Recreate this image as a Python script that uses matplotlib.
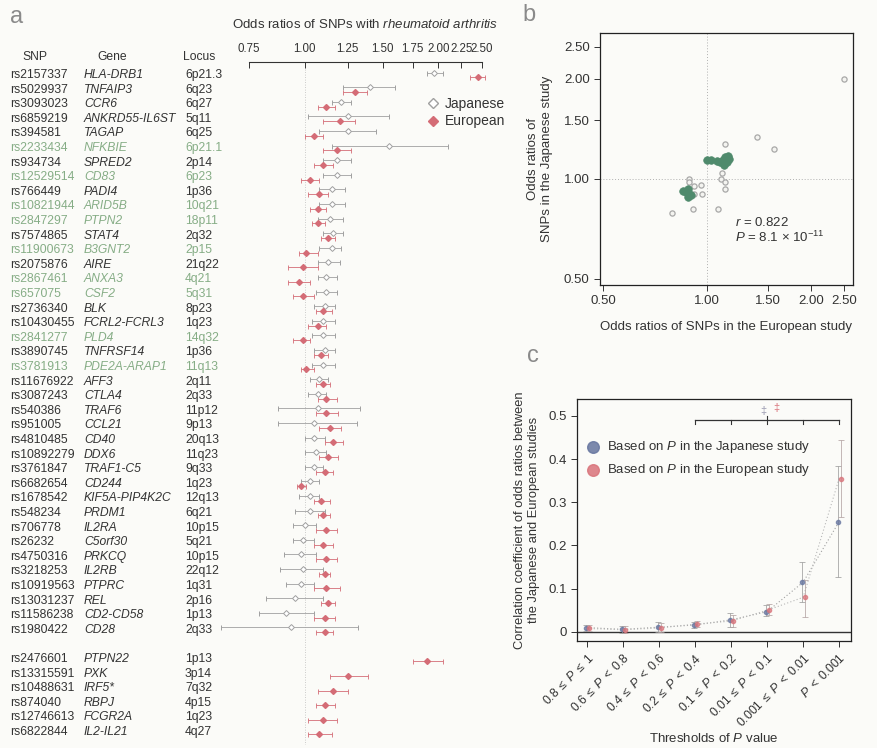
import matplotlib
matplotlib.use("Agg")
import matplotlib.pyplot as plt
import matplotlib.transforms as mtransforms
import numpy as np

plt.rcParams['font.family'] = ['Liberation Sans', 'DejaVu Sans']
plt.rcParams['mathtext.fontset'] = 'custom'
plt.rcParams['mathtext.rm'] = 'Liberation Sans'
plt.rcParams['mathtext.it'] = 'Liberation Sans:italic'
plt.rcParams['mathtext.bf'] = 'Liberation Sans:bold'

# ---------------- panel a: forest plot data ----------------
snps = ["rs2157337", "rs5029937", "rs3093023", "rs6859219", "rs394581", "rs2233434",
        "rs934734", "rs12529514", "rs766449", "rs10821944", "rs2847297", "rs7574865",
        "rs11900673", "rs2075876", "rs2867461", "rs657075", "rs2736340", "rs10430455",
        "rs2841277", "rs3890745", "rs3781913", "rs11676922", "rs3087243", "rs540386",
        "rs951005", "rs4810485", "rs10892279", "rs3761847", "rs6682654", "rs1678542",
        "rs548234", "rs706778", "rs26232", "rs4750316", "rs3218253", "rs10919563",
        "rs13031237", "rs11586238", "rs1980422",
        "rs2476601", "rs13315591", "rs10488631", "rs874040", "rs12746613", "rs6822844"]
genes = ["HLA-DRB1", "TNFAIP3", "CCR6", "ANKRD55-IL6ST", "TAGAP", "NFKBIE", "SPRED2",
         "CD83", "PADI4", "ARID5B", "PTPN2", "STAT4", "B3GNT2", "AIRE", "ANXA3", "CSF2",
         "BLK", "FCRL2-FCRL3", "PLD4", "TNFRSF14", "PDE2A-ARAP1", "AFF3", "CTLA4", "TRAF6",
         "CCL21", "CD40", "DDX6", "TRAF1-C5", "CD244", "KIF5A-PIP4K2C", "PRDM1", "IL2RA",
         "C5orf30", "PRKCQ", "IL2RB", "PTPRC", "REL", "CD2-CD58", "CD28",
         "PTPN22", "PXK", "IRF5*", "RBPJ", "FCGR2A", "IL2-IL21"]
loci = ["6p21.3", "6q23", "6q27", "5q11", "6q25", "6p21.1", "2p14", "6p23", "1p36", "10q21",
        "18p11", "2q32", "2p15", "21q22", "4q21", "5q31", "8p23", "1q23", "14q32", "1p36",
        "11q13", "2q11", "2q33", "11p12", "9p13", "20q13", "11q23", "9q33", "1q23", "12q13",
        "6q21", "10p15", "5q21", "10p15", "22q12", "1q31", "2p16", "1p13", "2q33",
        "1p13", "3p14", "7q32", "4p15", "1q23", "4q27"]
green_genes = ["NFKBIE", "CD83", "ARID5B", "PTPN2", "B3GNT2", "ANXA3", "CSF2", "PLD4",
               "PDE2A-ARAP1"]

# Japanese odds ratios (first 39 SNPs)
jp_or = [1.95, 1.40, 1.21, 1.25, 1.25, 1.55, 1.18, 1.18, 1.15, 1.15, 1.14, 1.16, 1.15,
         1.13, 1.12, 1.12, 1.11, 1.10, 1.10, 1.11, 1.10, 1.08, 1.07, 1.07, 1.05, 1.05,
         1.06, 1.05, 1.03, 1.03, 1.03, 1.00, 0.99, 0.98, 0.99, 0.98, 0.95, 0.91, 0.93]
jp_lo = [1.88, 1.22, 1.15, 1.02, 1.08, 1.15, 1.10, 1.10, 1.08, 1.08, 1.07, 1.10, 1.08,
         1.07, 1.07, 1.06, 1.05, 1.04, 1.04, 1.05, 1.04, 1.03, 1.02, 0.87, 0.87, 1.00,
         1.00, 1.00, 0.98, 0.97, 0.95, 0.94, 0.94, 0.90, 0.88, 0.91, 0.82, 0.79, 0.65]
jp_hi = [2.05, 1.60, 1.27, 1.55, 1.45, 2.10, 1.27, 1.27, 1.23, 1.23, 1.22, 1.22, 1.21,
         1.20, 1.18, 1.18, 1.17, 1.17, 1.17, 1.17, 1.17, 1.13, 1.12, 1.33, 1.31, 1.11,
         1.12, 1.10, 1.08, 1.08, 1.11, 1.06, 1.05, 1.06, 1.10, 1.05, 1.10, 1.05, 1.32]

# European odds ratios (all 45 SNPs)
eu_or = [2.45, 1.30, 1.12, 1.20, 1.05, 1.18, 1.10, 1.03, 1.08, 1.07, 1.07, 1.13, 1.01,
         0.99, 0.97, 0.99, 1.10, 1.07, 0.99, 1.09, 1.01, 1.10, 1.12, 1.12, 1.14, 1.16,
         1.13, 1.11, 0.98, 1.09, 1.10, 1.12, 1.10, 1.12, 1.11, 1.12, 1.13, 1.11, 1.11,
         1.88, 1.25, 1.16, 1.11, 1.10, 1.08]
eu_lo = [2.35, 1.22, 1.07, 1.10, 1.00, 1.10, 1.05, 0.98, 1.02, 1.03, 1.04, 1.09, 0.97,
         0.92, 0.92, 0.94, 1.06, 1.02, 0.94, 1.05, 0.98, 1.06, 1.07, 1.06, 1.08, 1.11,
         1.08, 1.06, 0.96, 1.05, 1.07, 1.06, 1.05, 1.06, 1.08, 1.05, 1.09, 1.05, 1.06,
         1.75, 1.14, 1.07, 1.06, 1.02, 1.02]
eu_hi = [2.55, 1.38, 1.17, 1.30, 1.10, 1.27, 1.16, 1.08, 1.13, 1.12, 1.11, 1.17, 1.07,
         1.07, 1.03, 1.05, 1.15, 1.12, 1.03, 1.13, 1.05, 1.14, 1.18, 1.19, 1.21, 1.22,
         1.19, 1.16, 1.01, 1.14, 1.14, 1.18, 1.16, 1.18, 1.14, 1.20, 1.17, 1.17, 1.16,
         2.05, 1.39, 1.25, 1.17, 1.18, 1.15]
forest_ticks = [0.75, 1.00, 1.25, 1.50, 1.75, 2.00, 2.25, 2.50]

# ---------------- panel b: scatter data ----------------
b_open_eu = [2.50, 1.40, 1.56, 1.13, 1.105, 1.10, 1.13, 1.13, 0.92, 0.92, 0.97, 0.89,
             0.89, 0.79, 0.91, 1.08, 0.96]
b_open_jp = [2.00, 1.34, 1.23, 1.27, 1.04, 1.00, 0.98, 0.93, 0.95, 0.90, 0.90, 1.00,
             0.98, 0.79, 0.81, 0.81, 0.96]
b_fill_eu = [0.85, 0.87, 0.88, 0.89, 0.90, 0.88, 1.00, 1.03, 1.07, 1.09, 1.11, 1.13,
             1.15, 1.16, 1.12, 1.14]
b_fill_jp = [0.92, 0.91, 0.93, 0.90, 0.89, 0.88, 1.14, 1.14, 1.13, 1.12, 1.14, 1.16,
             1.17, 1.15, 1.10, 1.12]
b_ticks = [0.50, 1.00, 1.50, 2.00, 2.50]

# ---------------- panel c: correlation data ----------------
c_labels = [r"$0.8\;\leq\;P\;\leq\;1$", r"$0.6\;\leq\;P\;<\;0.8$", r"$0.4\;\leq\;P\;<\;0.6$",
            r"$0.2\;\leq\;P\;<\;0.4$", r"$0.1\;\leq\;P\;<\;0.2$", r"$0.01\;\leq\;P\;<\;0.1$",
            r"$0.001\;\leq\;P\;<\;0.01$", r"$P\;<\;0.001$"]
c_jp = [0.010, 0.006, 0.011, 0.016, 0.028, 0.047, 0.115, 0.255]
c_jp_lo = [0.002, -0.002, 0.000, 0.010, 0.012, 0.037, 0.070, 0.128]
c_jp_hi = [0.017, 0.013, 0.022, 0.023, 0.043, 0.062, 0.162, 0.385]
c_eu = [0.008, 0.005, 0.009, 0.018, 0.025, 0.050, 0.080, 0.355]
c_eu_lo = [0.001, -0.002, 0.000, 0.011, 0.012, 0.040, 0.035, 0.265]
c_eu_hi = [0.016, 0.013, 0.020, 0.025, 0.040, 0.065, 0.120, 0.445]

TXT = '#333333'
GREEN_TXT = '#86ad86'
JP_COL = '#a0a0a0'
EU_COL = '#d46c76'
PT_GREEN = '#4f8a6c'
BLUE = '#66759f'
RED = '#d9737a'

W, H = 877, 748
fig = plt.figure(figsize=(W / 100, H / 100), dpi=100)
fig.patch.set_facecolor('#fbfbf8')


def fbox(x0, y0, x1, y1):
    # pixel box -> figure fraction rect
    return [x0 / W, 1 - y1 / H, (x1 - x0) / W, (y1 - y0) / H]


# ---------------- panel a ----------------
ax = fig.add_axes(fbox(215, 62, 500, 745))
ax.set_facecolor('none')
row_step = 14.6
slots = [i if i < 39 else i + 1 for i in range(len(snps))]
ax.set_xscale('log')
ax.set_xlim(0.629, 2.75)
ax.set_ylim((745 - 75) / row_step, (62 - 75) / row_step)

jy = np.array(slots[:len(jp_or)]) - 0.17
ey = np.array(slots) + 0.17
ax.axvline(1.0, ymin=0.0, ymax=0.99, color='#bbbbbb', lw=0.6, ls=(0, (1, 2)))
ax.errorbar(jp_or, jy, xerr=[np.subtract(jp_or, jp_lo), np.subtract(jp_hi, jp_or)],
            fmt='D', ms=3, mfc='white', mec=JP_COL, mew=0.7, ecolor=JP_COL,
            elinewidth=0.6, capsize=1.8, capthick=0.6, zorder=3)
ax.errorbar(eu_or, ey, xerr=[np.subtract(eu_or, eu_lo), np.subtract(eu_hi, eu_or)],
            fmt='D', ms=3, mfc=EU_COL, mec=EU_COL, ecolor=EU_COL,
            elinewidth=0.6, capsize=1.8, capthick=0.6, zorder=3)

for s in ['left', 'right', 'bottom']:
    ax.spines[s].set_visible(False)
ax.spines['top'].set_bounds(0.75, 2.5)
ax.spines['top'].set_color(TXT)
ax.spines['top'].set_linewidth(0.8)
ax.xaxis.set_ticks_position('top')
ax.xaxis.set_label_position('top')
ax.set_xticks(forest_ticks)
ax.set_xticklabels(['%.2f' % t for t in forest_ticks], fontsize=8.3, color=TXT)
ax.xaxis.set_minor_locator(matplotlib.ticker.NullLocator())
ax.tick_params(axis='x', direction='in', length=4, width=0.7, pad=5, color=TXT)
ax.set_yticks([])

trans = mtransforms.blended_transform_factory(fig.transFigure, ax.transData)
for i, s in enumerate(slots):
    col = GREEN_TXT if genes[i] in green_genes else TXT
    ax.text(10 / W, s, snps[i], transform=trans, fontsize=8.7, color=col, va='center')
    ax.text(84 / W, s, genes[i], transform=trans, fontsize=8.7, color=col, va='center',
            style='italic')
    ax.text(185 / W, s, loci[i], transform=trans, fontsize=8.7, color=col, va='center')

fig.text(35 / W, 1 - 57 / H, 'SNP', fontsize=8.7, color=TXT, ha='center', va='center')
fig.text(112 / W, 1 - 57 / H, 'Gene', fontsize=8.7, color=TXT, ha='center', va='center')
fig.text(199 / W, 1 - 57 / H, 'Locus', fontsize=8.7, color=TXT, ha='center', va='center')
fig.text(365 / W, 1 - 25 / H,
         r'Odds ratios of SNPs with $\mathit{rheumatoid\ arthritis}$',
         fontsize=9.5, color=TXT, ha='center', va='center')

# legend of panel a
ax.plot([], [], 'D', ms=5, mfc='white', mec=JP_COL, label='Japanese')
ax.plot([], [], 'D', ms=5, mfc=EU_COL, mec=EU_COL, label='European')
ax.legend(loc='upper left', bbox_to_anchor=(420 / W, 1 - 90 / H),
          bbox_transform=fig.transFigure, frameon=False, fontsize=10,
          handlelength=0.8, handletextpad=0.5, labelspacing=0.25, borderpad=0,
          labelcolor=TXT)

# ---------------- panel b ----------------
bx = fig.add_axes(fbox(600, 33, 853, 285))
bx.set_facecolor('none')
bx.set_xscale('log')
bx.set_yscale('log')
bx.set_xlim(0.49, 2.65)
bx.set_ylim(0.478, 2.75)
bx.axvline(1.0, color='#b0b0b0', lw=0.7, ls=(0, (1, 2)))
bx.axhline(1.0, color='#b0b0b0', lw=0.7, ls=(0, (1, 2)))
bx.scatter(b_open_eu, b_open_jp, s=14, facecolors='#f4f4f0', edgecolors='#a8a8a8',
           linewidths=0.9, zorder=3)
bx.scatter(b_fill_eu, b_fill_jp, s=30, color=PT_GREEN, edgecolors=PT_GREEN,
           linewidths=0.5, zorder=4)
for axis in (bx.xaxis, bx.yaxis):
    axis.set_major_locator(matplotlib.ticker.FixedLocator(b_ticks))
    axis.set_major_formatter(matplotlib.ticker.FormatStrFormatter('%.2f'))
    axis.set_minor_locator(matplotlib.ticker.NullLocator())
bx.tick_params(labelsize=9.5, colors=TXT, length=4, width=0.7)
for s in bx.spines.values():
    s.set_color('#222222')
    s.set_linewidth(0.9)
bx.set_xlabel('Odds ratios of SNPs in the European study', fontsize=9.5, color=TXT,
              labelpad=10)
bx.set_ylabel('Odds ratios of\nSNPs in the Japanese study', fontsize=9.5, color=TXT,
              labelpad=8)
bx.text(0.535, 0.235, r'$r$ = 0.822', transform=bx.transAxes, fontsize=9.5, color=TXT)
bx.text(0.535, 0.17, r'$P$ = 8.1 $\times$ 10$^{-11}$', transform=bx.transAxes,
        fontsize=9.5, color=TXT)

# ---------------- panel c ----------------
cx = fig.add_axes(fbox(577, 399, 851, 641))
cx.set_facecolor('none')
xs = np.arange(len(c_labels))
cx.set_xlim(-0.28, 7.33)
cx.set_ylim(-0.021, 0.539)
cx.axhline(0, color='#333333', lw=1.0, zorder=2)
cx.plot(xs, c_jp, color='#a0a0a0', lw=0.8, ls=(0, (1, 2)), zorder=2)
cx.plot(xs, c_eu, color='#b8b8b8', lw=0.8, ls=(0, (1, 2)), zorder=2)
cx.errorbar(xs - 0.04, c_jp, yerr=[np.subtract(c_jp, c_jp_lo), np.subtract(c_jp_hi, c_jp)],
            fmt='o', ms=3, color=BLUE, mfc=BLUE, mec=BLUE, ecolor='#9a9a9a',
            elinewidth=0.7, capsize=2.5, capthick=0.7, alpha=0.75, zorder=3)
cx.errorbar(xs + 0.04, c_eu, yerr=[np.subtract(c_eu, c_eu_lo), np.subtract(c_eu_hi, c_eu)],
            fmt='o', ms=3, color=RED, mfc=RED, mec=RED, ecolor='#b0a0a0',
            elinewidth=0.7, capsize=2.5, capthick=0.7, alpha=0.75, zorder=3)
# significance bracket
cx.plot([3, 7], [0.49, 0.49], color='#333333', lw=0.9)
for xb in range(3, 8):
    cx.plot([xb, xb], [0.49, 0.482], color='#333333', lw=0.8)
cx.plot([5, 5], [0.49, 0.5], color='#333333', lw=0.8)
cx.text(4.9, 0.512, '\u2021', color='#9a9ab0', fontsize=8, ha='center', va='center')
cx.text(5.27, 0.518, '\u2021', color=RED, fontsize=8, ha='center', va='center')

cx.set_xticks(xs)
cx.set_xticklabels(c_labels, rotation=45, ha='right', rotation_mode='anchor',
                   fontsize=9, color=TXT)
cx.set_yticks([0, 0.1, 0.2, 0.3, 0.4, 0.5])
cx.set_yticklabels(['0', '0.1', '0.2', '0.3', '0.4', '0.5'])
cx.tick_params(labelsize=9.5, colors=TXT, length=4, width=0.7)
cx.tick_params(axis='x', labelsize=8.8)
for s in cx.spines.values():
    s.set_color('#222222')
    s.set_linewidth(0.9)
cx.set_xlabel(r'Thresholds of $P$ value', fontsize=9.5, color=TXT, labelpad=2)
cx.set_ylabel('Correlation coefficient of odds ratios between\n'
              'the Japanese and European studies', fontsize=9.3, color=TXT, labelpad=6)
cx.scatter([0.06], [0.80], s=70, color=BLUE, transform=cx.transAxes, alpha=0.85)
cx.scatter([0.06], [0.707], s=70, color=RED, transform=cx.transAxes, alpha=0.85)
cx.text(0.11, 0.80, r'Based on $P$ in the Japanese study', transform=cx.transAxes,
        fontsize=9.5, color=TXT, va='center')
cx.text(0.11, 0.707, r'Based on $P$ in the European study', transform=cx.transAxes,
        fontsize=9.5, color=TXT, va='center')

# panel letters
fig.text(10 / W, 1 - 17 / H, 'a', fontsize=17, color='#8a8a8a', va='center')
fig.text(522 / W, 1 - 15 / H, 'b', fontsize=17, color='#8a8a8a', va='center')
fig.text(527 / W, 1 - 356 / H, 'c', fontsize=17, color='#8a8a8a', va='center')

fig.savefig('out.png', dpi=100, facecolor=fig.get_facecolor())
